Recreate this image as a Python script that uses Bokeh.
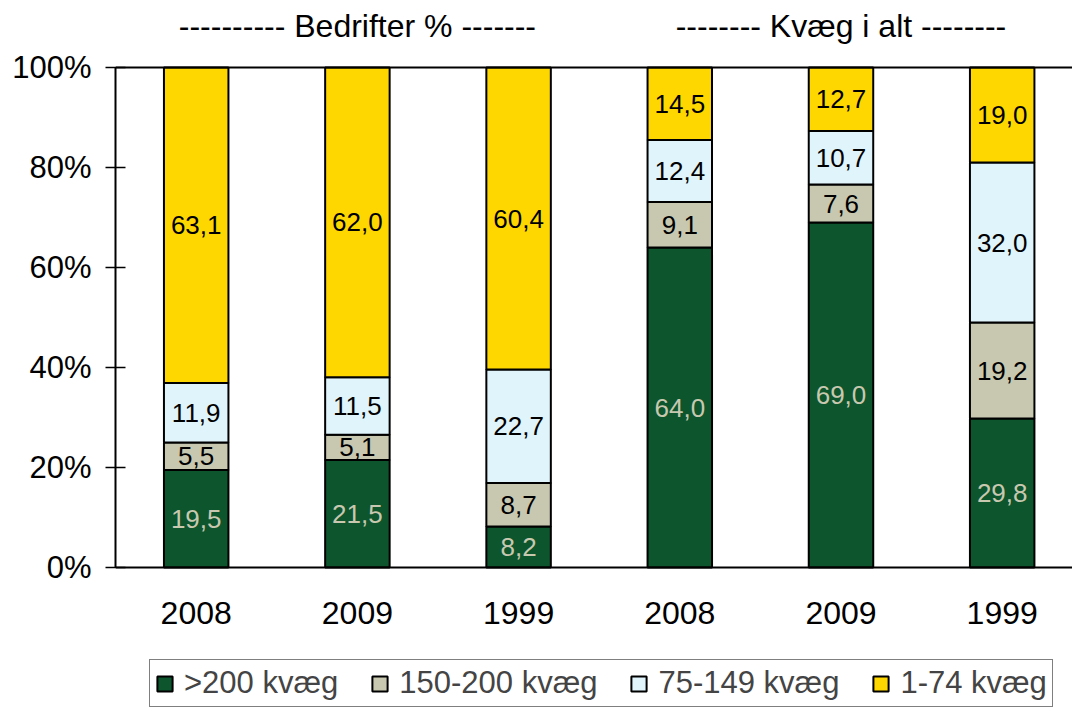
from bokeh.plotting import figure
from bokeh.models import ColumnDataSource, Range1d, Span, Legend, LegendItem, FixedTicker
from bokeh.core.properties import value
from bokeh.embed import file_html
from bokeh.resources import INLINE

# ---- data ----
x_labels = ["2008", "2009", "1999", "2008", "2009", "1999"]
series_names = [">200 kvæg", "150-200 kvæg", "75-149 kvæg", "1-74 kvæg"]
s_200 = [19.5, 21.5, 8.2, 64.0, 69.0, 29.8]
s_150 = [5.5, 5.1, 8.7, 9.1, 7.6, 19.2]
s_75 = [11.9, 11.5, 22.7, 12.4, 10.7, 32.0]
s_1 = [63.1, 62.0, 60.4, 14.5, 12.7, 19.0]
group_titles = ["---------- Bedrifter % -------", "-------- Kvæg i alt --------"]
group_title_x = [1, 4]
y_ticks = [0, 20, 40, 60, 80, 100]

colors = ["#0d552d", "#c8c8b0", "#e0f4fc", "#ffd700"]
label_colors = ["#c8c8b0", "black", "black", "black"]
FONT = "Liberation Sans"

xs = list(range(len(x_labels)))
raw = [s_200, s_150, s_75, s_1]
totals = [sum(r[i] for r in raw) for i in xs]
norm = [[r[i] / totals[i] * 100 for i in xs] for r in raw]
keys = ["a", "b", "c", "d"]
src = ColumnDataSource(dict(x=xs, **{k: v for k, v in zip(keys, norm)}))

p = figure(width=1072, height=707, output_backend="svg", toolbar_location=None,
           x_range=Range1d(-0.5006, 5.4362), y_range=Range1d(-28.0, 113.4),
           x_axis_location=None, min_border_left=115, min_border_right=0,
           min_border_top=0, min_border_bottom=0)
p.outline_line_color = None
p.grid.visible = False
p.background_fill_color = "white"

rs = p.vbar_stack(keys, x="x", width=0.4, source=src, color=colors,
                  line_color="black", line_width=2)

# segment labels
lx, ly, lt, lc = [], [], [], []
for si, r in enumerate(raw):
    for i in xs:
        base = sum(norm[k][i] for k in range(si))
        lx.append(i)
        ly.append(base + norm[si][i] / 2)
        lt.append(f"{r[i]:.1f}".replace(".", ","))
        lc.append(label_colors[si])
p.text(x=lx, y=ly, text=lt, text_color=lc, text_align="center", text_baseline="middle",
       text_font=value(FONT), text_font_size="26px")

# x category labels
p.text(x=xs, y=[-9] * len(xs), text=x_labels, text_align="center", text_baseline="middle",
       text_font=value(FONT), text_font_size="32px", text_color="black")

# group titles
p.text(x=group_title_x, y=[108.4] * 2, text=group_titles, text_align="center",
       text_baseline="middle", text_font=value(FONT), text_font_size="32px", text_color="black")

# frame lines
p.add_layout(Span(location=100, dimension="width", line_color="black", line_width=2))
p.add_layout(Span(location=0, dimension="width", line_color="black", line_width=2))

ax = p.yaxis[0]
ax.bounds = (0, 100)
ax.ticker = FixedTicker(ticks=y_ticks)
ax.major_label_overrides = {t: f"{t}%" for t in y_ticks}
ax.major_tick_in = 10
ax.major_tick_out = 10
ax.minor_tick_line_color = None
ax.axis_line_color = "black"
ax.axis_line_width = 2
ax.major_tick_line_color = "black"
ax.major_tick_line_width = 1.5
ax.major_label_text_font = FONT
ax.major_label_text_font_size = "31px"
ax.major_label_text_color = "black"
ax.major_label_standoff = 14

legend = Legend(items=[LegendItem(label=n, renderers=[r]) for n, r in zip(series_names, rs)],
                orientation="horizontal", location=(34, 0), margin=0, padding=5,
                spacing=32, glyph_width=19, glyph_height=19, label_standoff=10,
                label_text_font=FONT, label_text_font_size="31px", label_height=31,
                border_line_color="black", border_line_width=1,
                background_fill_color="white", background_fill_alpha=1)
p.add_layout(legend)

open("out.html", "w").write(file_html(p, INLINE))
